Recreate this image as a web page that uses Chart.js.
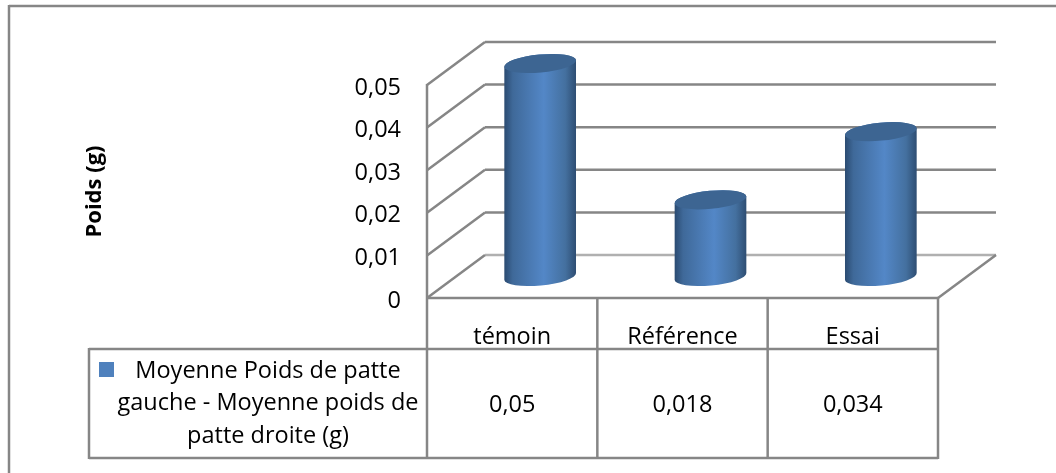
<!DOCTYPE html>
<html><head><meta charset="utf-8">
<script src="https://cdn.jsdelivr.net/npm/chart.js@4/dist/chart.umd.min.js"></script>
<style>html,body{margin:0;padding:0;background:#fff}canvas{display:block}</style>
</head><body><canvas id="c" width="1056" height="473"></canvas>
<script>
const categories = ["témoin", "Référence", "Essai"];
const values = [0.05, 0.018, 0.034];
const seriesNameLines = ["Moyenne Poids de patte", "gauche - Moyenne poids de", "patte droite (g)"];
const seriesName = "Moyenne Poids de patte gauche - Moyenne poids de patte droite (g)";
const axisTitle = "Poids (g)";
const FONT = "'Open Sans'";
const FS = 23.5;
const GREY = "#868686";
const DX = 58, DY = 43;
const fmt = v => String(+(+v).toFixed(3)).replace(".", ",");

const scene = {
  id: "scene",
  beforeDraw(chart) {
    chart.scales.y.getLabelItems().forEach(i => { i.options.translation[1] += 3; });
  },
  beforeDatasetsDraw(chart) {
    const c = chart.ctx, y = chart.scales.y, a = chart.chartArea;
    c.save();
    c.lineCap = "butt";
    c.strokeStyle = GREY; c.lineWidth = 2.5;
    const line = (x1,y1,x2,y2) => { c.beginPath(); c.moveTo(x1,y1); c.lineTo(x2,y2); c.stroke(); };
    line(9,6,1056,6); line(9,5,9,473);
    y.ticks.forEach(t => {
      const p = y.getPixelForValue(t.value);
      c.strokeStyle = t.value === 0 ? "#b0b0b0" : GREY;
      line(a.left + DX, p - DY, a.right + DX, p - DY);
      c.strokeStyle = GREY;
      line(a.left, p, a.left + DX, p - DY);
    });
    line(a.right, a.bottom, a.right + DX, a.bottom - DY);
    const top = a.bottom, row = 349, bot = 458, legendLeft = 89;
    line(a.left, top, a.right, top);
    line(legendLeft, row, a.right, row);
    line(legendLeft, bot, a.right, bot);
    line(legendLeft, row-1, legendLeft, bot+1);
    line(a.left, y.getPixelForValue(0.05)-1, a.left, bot+1);
    const colW = (a.right - a.left) / categories.length;
    categories.forEach((_, i) => line(a.left + colW*(i+1), top, a.left + colW*(i+1), bot+1));
    c.fillStyle = "#000"; c.textAlign = "center"; c.textBaseline = "middle";
    c.font = FS + "px " + FONT;
    values.forEach((v, i) => c.fillText(fmt(v), a.left + colW*(i+0.5), 405));
    const lx = [268, 268, 268], ly = [371, 403, 436];
    seriesNameLines.forEach((s, i) => c.fillText(s, lx[i], ly[i]));
    c.fillStyle = chart.data.datasets[0].borderColor;
    c.fillRect(99, 362, 15, 15);
    c.restore();
  },
  afterDatasetsDraw(chart) {
    const c = chart.ctx;
    chart.getDatasetMeta(0).data.forEach(b => {
      const cx = b.x + DX/2 - 1, top = b.y - DY/2, base = b.base - DY/2, rx = b.width/2, ry = 9, rot = -0.095;
      const g = c.createLinearGradient(cx - rx, 0, cx + rx, 0);
      g.addColorStop(0, "#2a4a70");
      g.addColorStop(0.12, "#3f6999");
      g.addColorStop(0.55, "#5387c7");
      g.addColorStop(0.85, "#44709f");
      g.addColorStop(1, "#2e4d72");
      c.save();
      c.beginPath();
      c.ellipse(cx, base, rx, ry, rot, 0, Math.PI);
      c.ellipse(cx, top, rx, ry, rot, Math.PI, Math.PI*2);
      c.closePath();
      c.fillStyle = g; c.fill();
      c.beginPath();
      c.ellipse(cx, top, rx, ry, rot, 0, Math.PI*2);
      c.fillStyle = "#3d6592"; c.fill();
      c.restore();
    });
  }
};

new Chart(document.getElementById("c"), {
  type: "bar",
  data: { labels: categories, datasets: [{ label: seriesName, data: values,
    backgroundColor: "rgba(0,0,0,0)", borderColor: "#4f81bd", borderWidth: 0, barThickness: 72 }] },
  plugins: [scene],
  options: {
    responsive: false, animation: false, devicePixelRatio: 1,
    layout: { padding: { left: 82, right: 118, top: 85, bottom: 15 } },
    plugins: { legend: { display: false }, tooltip: { enabled: false }, title: { display: false } },
    scales: {
      x: {
        grid: { display: false, drawTicks: false }, border: { display: false },
        ticks: { padding: 25, color: "#000", font: { family: FONT, size: FS }, maxRotation: 0 },
        afterFit: s => { s.height = 160; }
      },
      y: {
        min: 0, max: 0.05,
        grid: { display: false, drawTicks: false }, border: { display: false },
        ticks: { stepSize: 0.01, padding: 26, color: "#000", font: { family: FONT, size: FS }, callback: v => fmt(v) },
        title: { display: true, text: axisTitle, color: "#000", font: { family: FONT, size: 22, weight: "bold" }, padding: 0 },
        afterFit: s => { s.width = 345; }
      }
    }
  }
});
</script></body></html>
